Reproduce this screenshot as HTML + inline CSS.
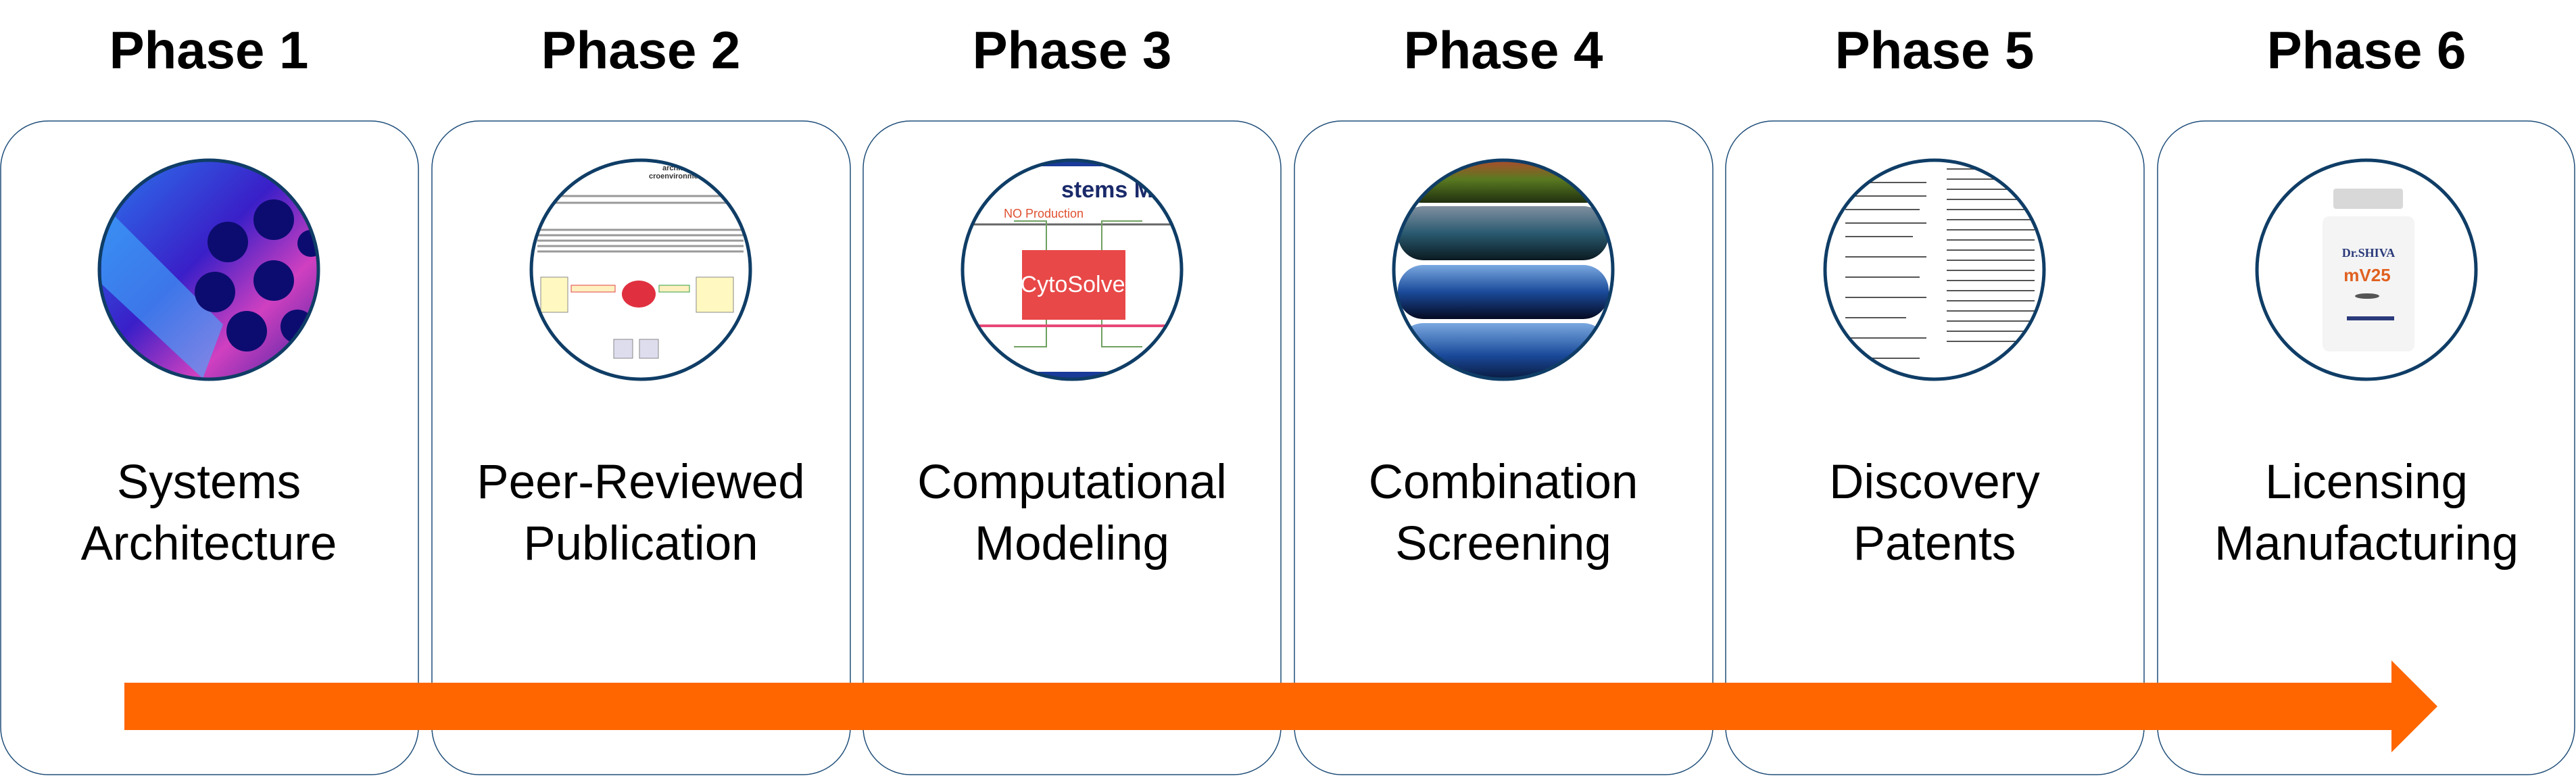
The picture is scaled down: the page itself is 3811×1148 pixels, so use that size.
<!DOCTYPE html>
<html><head><meta charset="utf-8"><style>
body{margin:0;background:#fff;}
svg{display:block}
</style></head><body>
<svg width="3811" height="1148" viewBox="0 0 3811 1148" xmlns="http://www.w3.org/2000/svg">
<defs>
<clipPath id="c1"><circle cx="309" cy="399" r="162"/></clipPath>
<clipPath id="c2"><circle cx="948" cy="399" r="162"/></clipPath>
<clipPath id="c3"><circle cx="1586" cy="399" r="162"/></clipPath>
<clipPath id="c4"><circle cx="2224" cy="399" r="162"/></clipPath>
<clipPath id="c5"><circle cx="2862" cy="399" r="162"/></clipPath>
<linearGradient id="g1" x1="0" y1="0" x2="1" y2="1"><stop offset="0" stop-color="#2a7cf0"/><stop offset="0.45" stop-color="#3a1fc8"/><stop offset="0.7" stop-color="#d040c0"/><stop offset="1" stop-color="#3020a0"/></linearGradient>
<linearGradient id="cap1" x1="0" y1="0" x2="0" y2="1"><stop offset="0" stop-color="#c04030"/><stop offset="0.5" stop-color="#5a7a20"/><stop offset="1" stop-color="#203010"/></linearGradient>
<linearGradient id="cap2" x1="0" y1="0" x2="0" y2="1"><stop offset="0" stop-color="#8090a0"/><stop offset="0.5" stop-color="#2a5a70"/><stop offset="1" stop-color="#0a1a20"/></linearGradient>
<linearGradient id="cap3" x1="0" y1="0" x2="0" y2="1"><stop offset="0" stop-color="#7aa8e0"/><stop offset="0.5" stop-color="#1a4a9a"/><stop offset="1" stop-color="#050a20"/></linearGradient>
</defs>
<g font-family="Liberation Sans, Arial, sans-serif" font-weight="bold" font-size="78" text-anchor="middle" fill="#000">
<text x="309" y="101">Phase 1</text>
<text x="948" y="101">Phase 2</text>
<text x="1586" y="101">Phase 3</text>
<text x="2224" y="101">Phase 4</text>
<text x="2862" y="101">Phase 5</text>
<text x="3501" y="101">Phase 6</text>
</g>
<g fill="#fff" stroke="#1f4e79" stroke-width="1.5">
<rect x="1" y="179" width="618" height="967" rx="70"/>
<rect x="639" y="179" width="619" height="967" rx="70"/>
<rect x="1277" y="179" width="618" height="967" rx="70"/>
<rect x="1915" y="179" width="619" height="967" rx="70"/>
<rect x="2553" y="179" width="619" height="967" rx="70"/>
<rect x="3192" y="179" width="617" height="967" rx="70"/>
</g>
<g clip-path="url(#c1)">
<rect x="140" y="230" width="340" height="340" fill="url(#g1)"/>
<path d="M150 300 L330 480 L300 560 L150 420Z" fill="#40b0ff" opacity="0.6"/>
<circle cx="405" cy="325" r="30" fill="#0c0c70"/>
<circle cx="337" cy="358" r="30" fill="#0c0c70"/>
<circle cx="405" cy="415" r="30" fill="#0c0c70"/>
<circle cx="318" cy="432" r="30" fill="#0c0c70"/>
<circle cx="365" cy="490" r="30" fill="#0c0c70"/>
<circle cx="440" cy="483" r="25" fill="#0c0c70"/>
<circle cx="460" cy="360" r="20" fill="#0c0c70"/>
</g>
<g clip-path="url(#c2)">
<rect x="780" y="230" width="340" height="340" fill="#fff"/>
<g stroke="#999" stroke-width="3">
<line x1="795" y1="340" x2="1100" y2="340"/><line x1="795" y1="348" x2="1100" y2="348"/><line x1="795" y1="356" x2="1100" y2="356"/><line x1="795" y1="364" x2="1100" y2="364"/><line x1="795" y1="372" x2="1100" y2="372"/><line x1="820" y1="290" x2="1080" y2="290"/><line x1="820" y1="300" x2="1080" y2="300"/>
</g>
<text x="980" y="252" font-family="Liberation Sans, sans-serif" font-size="11" font-weight="bold" fill="#333">architecture of the</text>
<text x="960" y="264" font-family="Liberation Sans, sans-serif" font-size="11" font-weight="bold" fill="#333">croenvironment</text>
<rect x="800" y="410" width="40" height="52" fill="#fff8c0" stroke="#888"/>
<rect x="1030" y="410" width="55" height="52" fill="#fff8c0" stroke="#888"/>
<ellipse cx="945" cy="435" rx="25" ry="20" fill="#e03040"/>
<rect x="845" y="422" width="65" height="10" fill="#fff0c0" stroke="#e04040"/>
<rect x="975" y="422" width="45" height="10" fill="#fff0c0" stroke="#30a040"/>
<rect x="908" y="502" width="28" height="28" fill="#dde" stroke="#888"/>
<rect x="946" y="502" width="28" height="28" fill="#dde" stroke="#888"/>
</g>
<g clip-path="url(#c3)">
<rect x="1420" y="230" width="340" height="340" fill="#fff"/>
<rect x="1420" y="236" width="340" height="10" fill="#1a3a9a"/>
<text x="1570" y="292" font-family="Liberation Sans, sans-serif" font-size="34" font-weight="bold" fill="#1a2a6a">stems Modeling</text>
<text x="1485" y="322" font-family="Liberation Sans, sans-serif" font-size="18" fill="#e05030">NO Production</text>
<line x1="1420" y1="332" x2="1760" y2="332" stroke="#666" stroke-width="3"/>
<rect x="1512" y="370" width="153" height="103" fill="#e84848"/>
<text x="1587" y="432" text-anchor="middle" font-family="Liberation Sans, sans-serif" font-size="34" fill="#fff">CytoSolve</text>
<g fill="none" stroke="#70a060" stroke-width="2"><path d="M1500 327 H1548 V370"/><path d="M1630 370 V327 H1690"/><path d="M1548 473 V513 H1500"/><path d="M1630 473 V513 H1690"/></g>
<rect x="1420" y="480" width="340" height="4" fill="#e84878"/>
<rect x="1420" y="550" width="340" height="20" fill="#1a3a9a"/>
</g>
<g clip-path="url(#c4)">
<rect x="2060" y="230" width="340" height="340" fill="#fff"/>
<rect x="2068" y="230" width="312" height="70" rx="35" fill="url(#cap1)"/>
<rect x="2068" y="305" width="312" height="80" rx="38" fill="url(#cap2)"/>
<rect x="2068" y="392" width="312" height="80" rx="38" fill="url(#cap3)"/>
<rect x="2068" y="478" width="312" height="95" rx="38" fill="url(#cap3)"/>
</g>
<g clip-path="url(#c5)">
<rect x="2700" y="230" width="340" height="340" fill="#fff"/>
<g stroke="#555" stroke-width="2">
<line x1="2730" y1="270" x2="2850" y2="270"/><line x1="2730" y1="290" x2="2850" y2="290"/><line x1="2730" y1="310" x2="2840" y2="310"/><line x1="2730" y1="330" x2="2850" y2="330"/><line x1="2730" y1="350" x2="2830" y2="350"/><line x1="2730" y1="380" x2="2850" y2="380"/><line x1="2730" y1="410" x2="2840" y2="410"/><line x1="2730" y1="440" x2="2850" y2="440"/><line x1="2730" y1="470" x2="2820" y2="470"/><line x1="2730" y1="500" x2="2850" y2="500"/><line x1="2730" y1="530" x2="2840" y2="530"/>
<line x1="2880" y1="250" x2="3010" y2="250"/><line x1="2880" y1="265" x2="3010" y2="265"/><line x1="2880" y1="280" x2="3010" y2="280"/><line x1="2880" y1="295" x2="3010" y2="295"/><line x1="2880" y1="310" x2="3010" y2="310"/><line x1="2880" y1="325" x2="3010" y2="325"/><line x1="2880" y1="340" x2="3010" y2="340"/><line x1="2880" y1="355" x2="3010" y2="355"/><line x1="2880" y1="370" x2="3010" y2="370"/><line x1="2880" y1="385" x2="3010" y2="385"/><line x1="2880" y1="400" x2="3010" y2="400"/><line x1="2880" y1="415" x2="3010" y2="415"/><line x1="2880" y1="430" x2="3010" y2="430"/><line x1="2880" y1="445" x2="3010" y2="445"/><line x1="2880" y1="460" x2="3010" y2="460"/><line x1="2880" y1="475" x2="3010" y2="475"/><line x1="2880" y1="490" x2="3010" y2="490"/><line x1="2880" y1="505" x2="3010" y2="505"/>
</g>
</g>
<rect x="3452" y="279" width="103" height="30" rx="4" fill="#d8d8d8"/>
<rect x="3436" y="320" width="136" height="200" rx="10" fill="#f4f4f4"/>
<text x="3504" y="380" text-anchor="middle" font-family="Liberation Serif, serif" font-size="18" font-weight="bold" fill="#2a3a7a">Dr.SHIVA</text>
<text x="3502" y="416" text-anchor="middle" font-family="Liberation Sans, sans-serif" font-size="26" font-weight="bold" fill="#e06020">mV25</text>
<ellipse cx="3502" cy="438" rx="18" ry="4" fill="#555"/>
<rect x="3472" y="468" width="70" height="6" fill="#2a3a7a"/>
<g fill="none" stroke="#0f3d66" stroke-width="5">
<circle cx="309" cy="399" r="162"/>
<circle cx="948" cy="399" r="162"/>
<circle cx="1586" cy="399" r="162"/>
<circle cx="2224" cy="399" r="162"/>
<circle cx="2862" cy="399" r="162"/>
<circle cx="3501" cy="399" r="162"/>
</g>
<g font-family="Liberation Sans, Arial, sans-serif" font-size="71" text-anchor="middle" fill="#000">
<text x="309" y="737">Systems</text><text x="309" y="828">Architecture</text>
<text x="948" y="737">Peer-Reviewed</text><text x="948" y="828">Publication</text>
<text x="1586" y="737">Computational</text><text x="1586" y="828">Modeling</text>
<text x="2224" y="737">Combination</text><text x="2224" y="828">Screening</text>
<text x="2862" y="737">Discovery</text><text x="2862" y="828">Patents</text>
<text x="3501" y="737">Licensing</text><text x="3501" y="828">Manufacturing</text>
</g>
<path d="M184 1010 H3538 V977 L3606 1045 L3538 1113 V1080 H184 Z" fill="#ff6600"/>
</svg>
</body></html>
